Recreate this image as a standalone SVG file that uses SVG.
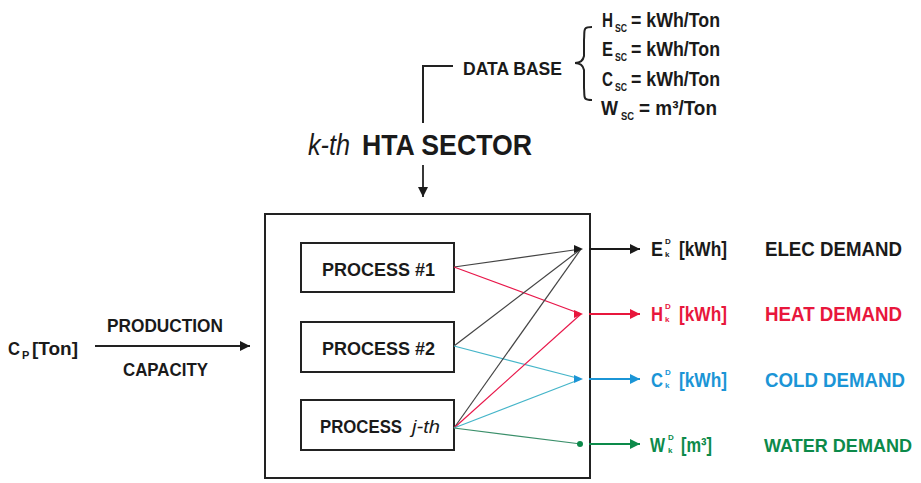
<svg xmlns="http://www.w3.org/2000/svg" width="921" height="483" viewBox="0 0 921 483">
<style>
text{font-family:"Liberation Sans",Arial,sans-serif;font-weight:bold;fill:#1a1a1a}
.b{font-size:20px}
.o{font-size:21px}
.s{font-size:11px}
.m{font-size:8px}
.it{font-style:italic;font-weight:normal}
.box{fill:#fff;stroke:#222;stroke-width:2}
.ln{fill:none;stroke-width:1.2}
.k{stroke:#444}.r{stroke:#e8174a}.c{stroke:#45b5c9}.g{stroke:#3a8f6a}
.red{fill:#e8173c}.blue{fill:#1b95d6}.green{fill:#0c8a4a}
</style>
<defs>
<marker id="ak" viewBox="0 0 10 10" refX="10" refY="5" markerWidth="10" markerHeight="10" markerUnits="userSpaceOnUse" orient="auto"><path d="M0,0L10,5L0,10z" fill="#1a1a1a"/></marker>
<marker id="ar" viewBox="0 0 10 10" refX="10" refY="5" markerWidth="10" markerHeight="10" markerUnits="userSpaceOnUse" orient="auto"><path d="M0,0L10,5L0,10z" fill="#e8173c"/></marker>
<marker id="ab" viewBox="0 0 10 10" refX="10" refY="5" markerWidth="10" markerHeight="10" markerUnits="userSpaceOnUse" orient="auto"><path d="M0,0L10,5L0,10z" fill="#1b95d6"/></marker>
<marker id="ag" viewBox="0 0 10 10" refX="10" refY="5" markerWidth="10" markerHeight="10" markerUnits="userSpaceOnUse" orient="auto"><path d="M0,0L10,5L0,10z" fill="#0c8a4a"/></marker>
</defs>
<rect width="921" height="483" fill="#fff"/>

<g id="database">
<text class="b" x="463" y="75" textLength="99" lengthAdjust="spacingAndGlyphs" style="font-size:19px">DATA BASE</text>
<path d="M592,27 C582,27 585,30 584,40 L584,56 C583,61 580,63 575,63 C580,63 583,65 584,70 L584,88 C585,97 582,100 592,100" fill="none" stroke="#222" stroke-width="2"/>
<text class="b" x="602" y="27" textLength="11" lengthAdjust="spacingAndGlyphs">H</text>
<text class="s" x="615" y="32" textLength="12" lengthAdjust="spacingAndGlyphs">SC</text>
<text class="b" x="631" y="27" textLength="89" lengthAdjust="spacingAndGlyphs">= kWh/Ton</text>
<text class="b" x="602" y="56" textLength="11" lengthAdjust="spacingAndGlyphs">E</text>
<text class="s" x="615" y="61" textLength="12" lengthAdjust="spacingAndGlyphs">SC</text>
<text class="b" x="631" y="56" textLength="89" lengthAdjust="spacingAndGlyphs">= kWh/Ton</text>
<text class="b" x="602" y="86" textLength="11" lengthAdjust="spacingAndGlyphs">C</text>
<text class="s" x="615" y="91" textLength="12" lengthAdjust="spacingAndGlyphs">SC</text>
<text class="b" x="631" y="86" textLength="89" lengthAdjust="spacingAndGlyphs">= kWh/Ton</text>
<text class="b" x="601" y="115" textLength="17" lengthAdjust="spacingAndGlyphs">W</text>
<text class="s" x="621" y="120" textLength="13" lengthAdjust="spacingAndGlyphs">SC</text>
<text class="b" x="639" y="115" textLength="78" lengthAdjust="spacingAndGlyphs">= m³/Ton</text>
</g>

<g id="title">
<text x="308" y="155" style="font-size:30px" class="it" textLength="42" lengthAdjust="spacingAndGlyphs">k-th</text>
<text x="362" y="155" style="font-size:30px" textLength="170" lengthAdjust="spacingAndGlyphs">HTA SECTOR</text>
</g>

<g id="input">
<text class="b" x="8" y="355" style="font-size:19px" textLength="12" lengthAdjust="spacingAndGlyphs">C</text>
<text class="s" x="22" y="359">P</text>
<text class="b" x="32" y="355" style="font-size:19px" textLength="46" lengthAdjust="spacingAndGlyphs">[Ton]</text>
<text class="b" x="107" y="332" style="font-size:19px" textLength="116" lengthAdjust="spacingAndGlyphs">PRODUCTION</text>
<text class="b" x="123" y="376" style="font-size:19px" textLength="85" lengthAdjust="spacingAndGlyphs">CAPACITY</text>
</g>

<g id="sector">
<rect class="box" x="265" y="214" width="325" height="264"/>
</g>
<g id="process1">
<rect class="box" x="301" y="243" width="153" height="49"/>
<text class="b" x="322" y="276" style="font-size:19px" textLength="113" lengthAdjust="spacingAndGlyphs">PROCESS  #1</text>
</g>
<g id="process2">
<rect class="box" x="301" y="322" width="153" height="50"/>
<text class="b" x="322" y="355" style="font-size:19px" textLength="113" lengthAdjust="spacingAndGlyphs">PROCESS  #2</text>
</g>
<g id="processj">
<rect class="box" x="301" y="400" width="153" height="50"/>
<text class="b" x="320" y="433" style="font-size:19px" textLength="82" lengthAdjust="spacingAndGlyphs">PROCESS</text>
<text class="b it" x="412" y="433" style="font-size:19px" textLength="28" lengthAdjust="spacingAndGlyphs">j-th</text>
</g>

<g id="connectors">
<path d="M423,123 L423,66 L453,66" fill="none" stroke="#222" stroke-width="2"/>
<path d="M423,165 L423,197" fill="none" stroke="#222" stroke-width="1.8" marker-end="url(#ak)"/>
<path d="M95,346 L250,346" fill="none" stroke="#222" stroke-width="2" marker-end="url(#ak)"/>
<path class="ln k" d="M454,267 L581,249"/>
<path class="ln r" d="M454,267 L581,314"/>
<path class="ln k" d="M454,346 L581,249"/>
<path class="ln c" d="M454,346 L581,379"/>
<path class="ln k" d="M454,428 L581,249"/>
<path class="ln r" d="M454,428 L581,314"/>
<path class="ln c" d="M454,428 L581,379"/>
<path class="ln g" d="M454,428 L581,444"/>
<path d="M574,245 L583,249 L574,253z" fill="#1a1a1a"/>
<path d="M574,310 L583,314 L574,318z" fill="#e8173c"/>
<path d="M574,375 L583,379 L574,383z" fill="#1b95d6"/>
<circle cx="580" cy="444" r="3" fill="#0c8a4a"/>
<path d="M589,249 L640,249" stroke="#1a1a1a" stroke-width="2" marker-end="url(#ak)"/>
<path d="M589,314 L640,314" stroke="#e8173c" stroke-width="2" marker-end="url(#ar)"/>
<path d="M589,379 L640,379" stroke="#1b95d6" stroke-width="2" marker-end="url(#ab)"/>
<path d="M589,444 L640,444" stroke="#0c8a4a" stroke-width="2" marker-end="url(#ag)"/>
</g>

<g id="elec">
<text class="o" x="651" y="256" textLength="12" lengthAdjust="spacingAndGlyphs">E</text>
<text class="m" x="665" y="244">D</text><text class="m" x="665" y="257">k</text>
<text class="o" x="679" y="256" textLength="48" lengthAdjust="spacingAndGlyphs">[kWh]</text>
<text class="o" x="765" y="256" textLength="137" lengthAdjust="spacingAndGlyphs">ELEC  DEMAND</text>
</g>
<g id="heat">
<text class="o red" x="651" y="321" textLength="12" lengthAdjust="spacingAndGlyphs">H</text>
<text class="m red" x="665" y="309">D</text><text class="m red" x="665" y="322">k</text>
<text class="o red" x="679" y="321" textLength="48" lengthAdjust="spacingAndGlyphs">[kWh]</text>
<text class="o red" x="765" y="321" textLength="137" lengthAdjust="spacingAndGlyphs">HEAT  DEMAND</text>
</g>
<g id="cold">
<text class="o blue" x="651" y="387" textLength="12" lengthAdjust="spacingAndGlyphs">C</text>
<text class="m blue" x="665" y="375">D</text><text class="m blue" x="665" y="388">k</text>
<text class="o blue" x="679" y="387" textLength="48" lengthAdjust="spacingAndGlyphs">[kWh]</text>
<text class="o blue" x="765" y="387" textLength="140" lengthAdjust="spacingAndGlyphs">COLD  DEMAND</text>
</g>
<g id="water">
<text class="o green" x="650" y="452" textLength="15" lengthAdjust="spacingAndGlyphs">W</text>
<text class="m green" x="668" y="440">D</text><text class="m green" x="668" y="453">k</text>
<text class="o green" x="681" y="452" textLength="31" lengthAdjust="spacingAndGlyphs">[m³]</text>
<text class="green" x="764" y="452" style="font-size:18px" textLength="148" lengthAdjust="spacingAndGlyphs">WATER DEMAND</text>
</g>
</svg>
